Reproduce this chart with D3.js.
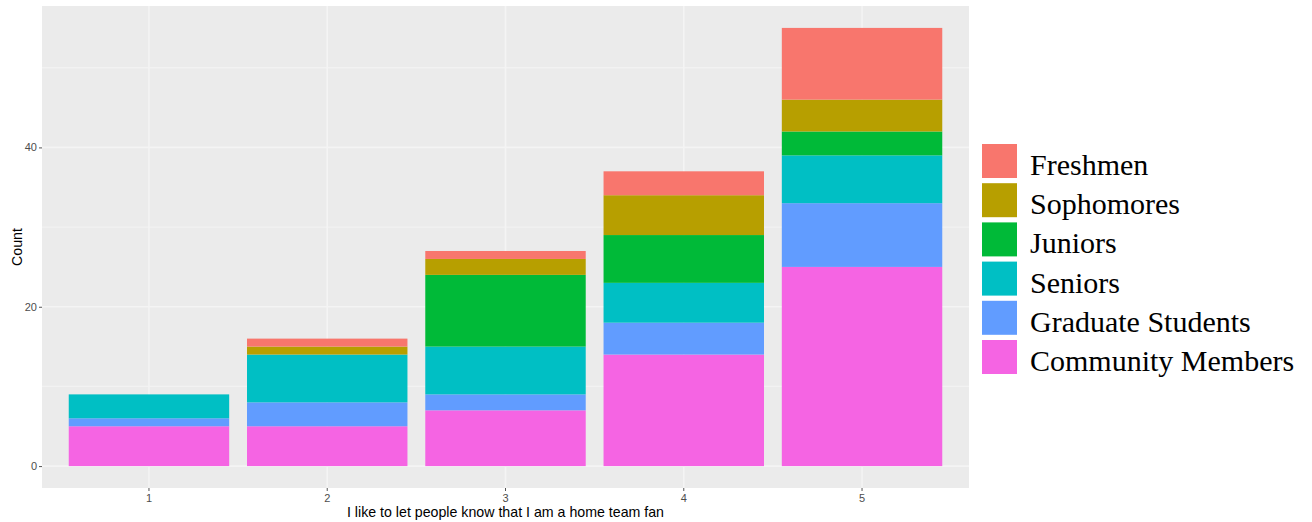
<!DOCTYPE html>
<html>
<head>
<meta charset="utf-8">
<script src="https://cdn.jsdelivr.net/npm/d3@7"></script>
<style>
  html, body { margin: 0; padding: 0; background: #ffffff; }
  svg { display: block; }
</style>
</head>
<body>
<svg id="chart" width="1312" height="522"></svg>
<script>
// ---- Data ----
const categories = ["1", "2", "3", "4", "5"];
const groups = ["Freshmen", "Sophomores", "Juniors", "Seniors", "Graduate Students", "Community Members"];
const freshmen   = [0, 1, 1, 3, 9];
const sophomores = [0, 1, 2, 5, 4];
const juniors    = [0, 0, 9, 6, 3];
const seniors    = [3, 6, 6, 5, 6];
const graduate   = [1, 3, 2, 4, 8];
const community  = [5, 5, 7, 14, 25];
const yTicks = [0, 20, 40];
const yMinor = [10, 30, 50];
const colors = ["#F8766D", "#B79F00", "#00BA38", "#00BFC4", "#619CFF", "#F564E3"];
const xTitle = "I like to let people know that I am a home team fan";
const yTitle = "Count";

const seriesValues = [freshmen, sophomores, juniors, seniors, graduate, community];

// ---- Layout ----
const svg = d3.select("#chart");
const panel = { left: 42, right: 969, top: 6, bottom: 488 };

const rows = categories.map((c, i) => {
  const r = { cat: c };
  groups.forEach((g, k) => { r[g] = seriesValues[k][i]; });
  return r;
});
// stack from bottom: Community Members first, Freshmen last (on top)
const stackKeys = groups.slice().reverse();
const stacked = d3.stack().keys(stackKeys)(rows);
const maxTotal = d3.max(rows, r => d3.sum(groups, g => r[g]));

const pad = maxTotal * 0.05;
const y = d3.scaleLinear().domain([-pad, maxTotal + pad]).range([panel.bottom, panel.top]);
const x = d3.scaleBand().domain(categories).range([panel.left, panel.right])
  .paddingInner(0.1).paddingOuter(0.15);
const color = d3.scaleOrdinal().domain(groups).range(colors);

// panel background
svg.append("rect")
  .attr("x", panel.left).attr("y", panel.top)
  .attr("width", panel.right - panel.left).attr("height", panel.bottom - panel.top)
  .attr("fill", "#EBEBEB");

// minor grid
svg.append("g").selectAll("line").data(yMinor).join("line")
  .attr("x1", panel.left).attr("x2", panel.right)
  .attr("y1", d => y(d)).attr("y2", d => y(d))
  .attr("stroke", "#F2F2F2").attr("stroke-width", 1.3);

// major grid
svg.append("g").selectAll("line").data(yTicks).join("line")
  .attr("x1", panel.left).attr("x2", panel.right)
  .attr("y1", d => y(d)).attr("y2", d => y(d))
  .attr("stroke", "#F4F4F4").attr("stroke-width", 1.6);
svg.append("g").selectAll("line").data(categories).join("line")
  .attr("x1", d => x(d) + x.bandwidth() / 2).attr("x2", d => x(d) + x.bandwidth() / 2)
  .attr("y1", panel.top).attr("y2", panel.bottom)
  .attr("stroke", "#F4F4F4").attr("stroke-width", 1.6);

// bars
svg.append("g").selectAll("g").data(stacked).join("g")
  .attr("fill", d => color(d.key))
  .selectAll("rect").data(d => d).join("rect")
  .attr("x", d => x(d.data.cat))
  .attr("width", x.bandwidth())
  .attr("y", d => y(d[1]))
  .attr("height", d => y(d[0]) - y(d[1]));

// axes
const yAxis = d3.axisLeft(y).tickValues(yTicks).tickSize(3).tickPadding(2);
const gy = svg.append("g").attr("transform", `translate(${panel.left},0)`).call(yAxis);
gy.select(".domain").remove();
gy.selectAll(".tick line").attr("stroke", "#555555");
gy.selectAll(".tick text").attr("fill", "#4D4D4D")
  .style("font-family", "'Liberation Sans', Arial, sans-serif").style("font-size", "11px");

const xAxis = d3.axisBottom(x).tickSize(3).tickPadding(3);
const gx = svg.append("g").attr("transform", `translate(0,${panel.bottom})`).call(xAxis);
gx.select(".domain").remove();
gx.selectAll(".tick line").attr("stroke", "#555555");
gx.selectAll(".tick text").attr("fill", "#4D4D4D")
  .style("font-family", "'Liberation Sans', Arial, sans-serif").style("font-size", "11px");

// axis titles
svg.append("text")
  .attr("x", (panel.left + panel.right) / 2).attr("y", 517)
  .attr("text-anchor", "middle")
  .style("font-family", "'Liberation Sans', Arial, sans-serif").style("font-size", "14.2px")
  .attr("fill", "#000000")
  .text(xTitle);
svg.append("text")
  .attr("transform", `translate(22,${(panel.top + panel.bottom) / 2}) rotate(-90)`)
  .attr("text-anchor", "middle")
  .style("font-family", "'Liberation Sans', Arial, sans-serif").style("font-size", "14.2px")
  .attr("fill", "#000000")
  .text(yTitle);

// legend
const legend = svg.append("g").attr("transform", "translate(982,144)");
const item = legend.selectAll("g").data(groups).join("g")
  .attr("transform", (d, i) => `translate(0,${i * 39.2})`);
item.append("rect")
  .attr("x", 0).attr("y", 0).attr("width", 35).attr("height", 34)
  .attr("fill", d => color(d));
item.append("text")
  .attr("x", 48).attr("y", 31)
  .style("font-family", "'Liberation Serif', 'Times New Roman', serif").style("font-size", "30px")
  .attr("fill", "#000000")
  .text(d => d);
</script>
</body>
</html>
